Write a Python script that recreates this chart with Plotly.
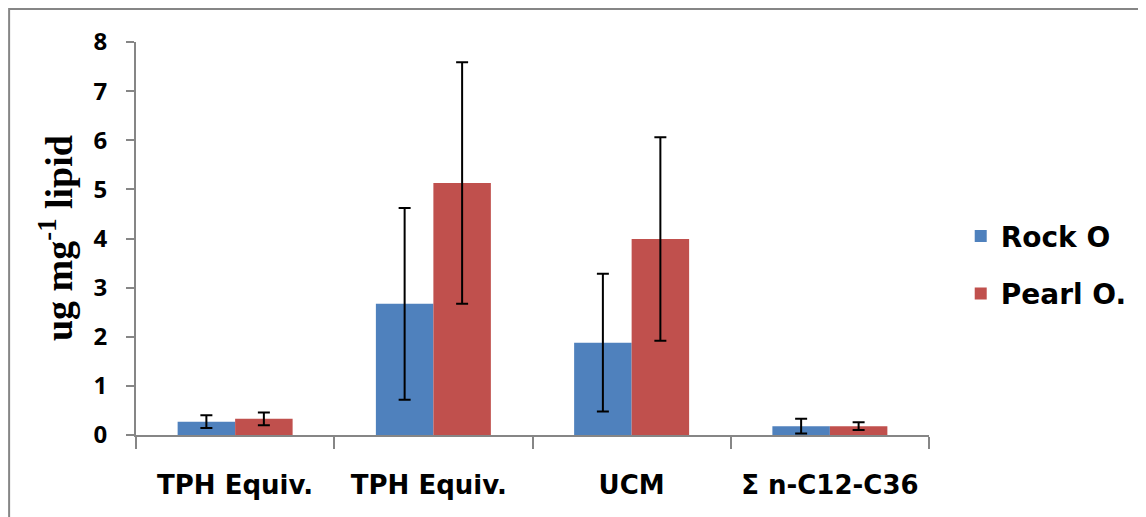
import plotly.graph_objects as go

categories = ["TPH Equiv.", "TPH Equiv. ", "UCM", "Σ n-C12-C36"]
rock_values = [0.27, 2.67, 1.88, 0.18]
rock_errors = [0.13, 1.95, 1.40, 0.15]
pearl_values = [0.33, 5.13, 3.99, 0.18]
pearl_errors = [0.13, 2.46, 2.07, 0.08]
y_ticks = [0, 1, 2, 3, 4, 5, 6, 7, 8]

font_sans = "Open Sans"
font_wide = "DejaVu Sans"
grey = "#868686"
err_style = dict(type="data", visible=True, color="black", thickness=2, width=6)

fig = go.Figure()
fig.add_trace(go.Bar(
    x=categories, y=rock_values, name="Rock O",
    marker=dict(color="#4F81BD", line=dict(width=0)),
    error_y=dict(array=rock_errors, **err_style),
    legendgroup="a",
))
fig.add_trace(go.Bar(
    x=categories, y=pearl_values, name="Pearl O.",
    marker=dict(color="#C0504D", line=dict(width=0)),
    error_y=dict(array=pearl_errors, **err_style),
    legendgroup="b",
))

fig.update_layout(
    width=1146, height=517,
    margin=dict(l=128, r=225, t=34, b=90),
    paper_bgcolor="white", plot_bgcolor="white",
    barmode="group", bargap=0.42, bargroupgap=0,
    font=dict(family=font_sans, color="black"),
    showlegend=True,
    legend=dict(
        x=1.04, y=0.433, xanchor="left", yanchor="middle",
        font=dict(family=font_wide, size=28, color="black", weight="bold"),
        tracegroupgap=18,
        traceorder="grouped",
    ),
    xaxis=dict(
        showline=True, linecolor=grey, linewidth=2,
        ticks="outside", tickson="boundaries", ticklen=12, tickcolor=grey, tickwidth=2,
        tickfont=dict(family=font_wide, size=26, color="black", weight="bold"),
        ticklabelstandoff=26,
        showgrid=False, zeroline=False,
    ),
    yaxis=dict(
        range=[0, 8], tickvals=y_ticks,
        showline=True, linecolor=grey, linewidth=2,
        ticks="outside", ticklen=8, tickcolor=grey, tickwidth=2,
        tickfont=dict(family=font_sans, size=24, color="black", weight="bold"),
        ticklabelstandoff=14,
        showgrid=False, zeroline=False,
    ),
    shapes=[dict(
        type="rect", xref="paper", yref="paper",
        x0=-0.160, x1=1.5, y0=-0.5, y1=1.084,
        line=dict(color=grey, width=2), fillcolor="rgba(0,0,0,0)", layer="below",
    )],
    annotations=[dict(
        text="ug mg<sup>-1</sup> lipid", xref="paper", yref="paper",
        x=-0.1015, y=0.5, xanchor="center", yanchor="middle",
        textangle=-90, showarrow=False,
        font=dict(family="Liberation Serif", size=38, color="black", weight="bold"),
    )],
)

fig.write_html("out.html")
